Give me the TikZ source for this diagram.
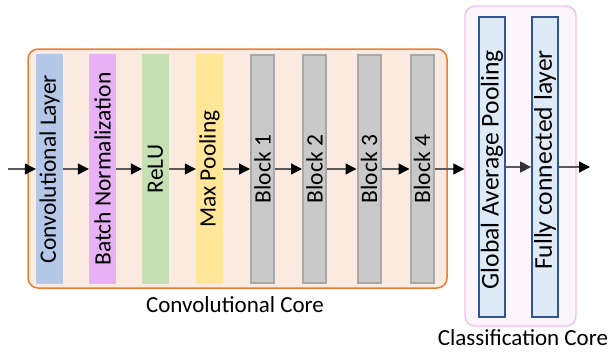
\documentclass[tikz,border=0pt]{standalone}
\usepackage{fontspec}
\usepackage{graphicx}
\setmainfont{Carlito}
\usetikzlibrary{arrows.meta}

\definecolor{convblue}{HTML}{B4C7E7}
\definecolor{bnpurple}{HTML}{E6B2F5}
\definecolor{relugreen}{HTML}{C5E0B4}
\definecolor{poolyellow}{HTML}{FFE699}
\definecolor{blockfill}{HTML}{C9C9C9}
\definecolor{blockline}{HTML}{A8A8A8}
\definecolor{coreorange}{HTML}{ED7D31}
\definecolor{corefill}{HTML}{FBEADF}
\definecolor{clsline}{HTML}{F4C0EC}
\definecolor{clsfill}{HTML}{FDF5FC}
\definecolor{headfill}{HTML}{DEEBF7}
\definecolor{headline}{HTML}{2F5597}
\definecolor{wire}{HTML}{5A5A5A}

\tikzset{
  corebox/.style={rectangle, rounded corners=10pt, inner sep=0pt},
  layerbox/.style={rectangle, draw=none, fill=#1, minimum width=27pt,
    minimum height=230pt, inner sep=0pt, font=\fontsize{23.5}{26}\selectfont},
  blockbox/.style={rectangle, draw=blockline, line width=2pt, fill=blockfill,
    minimum width=23pt, minimum height=228pt, inner sep=0pt,
    font=\fontsize{23.5}{26}\selectfont},
  headbox/.style={rectangle, draw=headline, line width=1.8pt, fill=headfill,
    minimum width=26pt, minimum height=300pt, inner sep=0pt},
  vtext/.style={inner sep=0pt, font=\fontsize{25.6}{28}\selectfont},
  caption/.style={anchor=base, inner sep=0pt, font=\fontsize{23}{26}\selectfont},
  flow/.style={draw=wire, line width=1.3pt,
    -{Triangle[length=11pt,width=11pt,color=black]}},
}

\begin{document}
\begin{tikzpicture}[x=1pt,y=-1pt]
\useasboundingbox (0,0) rectangle (610,351);

% enclosing groups
\node[corebox, draw=coreorange, line width=1.5pt, fill=corefill,
      minimum width=419pt, minimum height=239pt] (convcore) at (237.5,168.5) {};
\node[corebox, draw=clsline, line width=1.4pt, fill=clsfill,
      minimum width=111pt, minimum height=320pt] (clscore) at (520.5,166) {};

% convolutional core layers
\node[layerbox=convblue]   (conv) at (49.5,169)  {\rotatebox{90}{Convolutional Layer}};
\node[layerbox=bnpurple]   (bn)   at (102.5,169) {\rotatebox{90}{Batch Normalization}};
\node[layerbox=relugreen]  (relu) at (155.5,169) {\rotatebox{90}{ReLU}};
\node[layerbox=poolyellow] (pool) at (209.5,169) {\rotatebox{90}{Max Pooling}};
\node[blockbox] (b1) at (262.5,169) {\rotatebox{90}{Block 1}};
\node[blockbox] (b2) at (314.5,169) {\rotatebox{90}{Block 2}};
\node[blockbox] (b3) at (369,169)   {\rotatebox{90}{Block 3}};
\node[blockbox] (b4) at (422,169)   {\rotatebox{90}{Block 4}};

% classification core layers
\node[headbox] (gap) at (492,167) {};
\node[headbox] (fc)  at (545,167) {};
\node[vtext, anchor=north] (gapt) at (492,50) {\rotatebox{90}{Global Average Pooling}};
\node[vtext, anchor=north] (fct)  at (545,50) {\rotatebox{90}{Fully connected layer}};

% captions
\node[caption] (convcap) at (235,312) {Convolutional Core};
\node[caption] (clscap)  at (523,345) {Classification Core};

% data flow
\coordinate (in)  at (8,169);
\coordinate (out) at (590,167);
\draw[flow] (in) -- (conv.west);
\draw[flow] (conv) -- (bn);
\draw[flow] (bn) -- (relu);
\draw[flow] (relu) -- (pool);
\draw[flow] (pool) -- (b1);
\draw[flow] (b1) -- (b2);
\draw[flow] (b2) -- (b3);
\draw[flow] (b3) -- (b4);
\draw[flow] (b4.east) -- (b4.east -| clscore.west);
\draw[flow, -{Triangle[length=11pt,width=11pt,color=black!80]}] (gap) -- (fc);
\draw[flow] (fc.east) -- (out);
\end{tikzpicture}
\end{document}
